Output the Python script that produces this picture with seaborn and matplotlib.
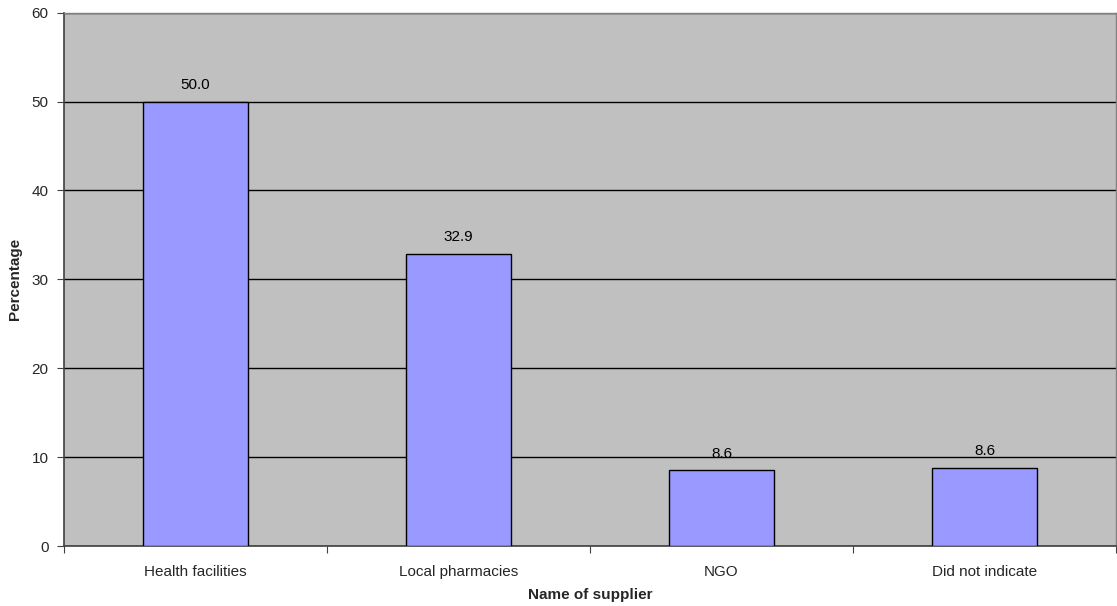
import matplotlib
matplotlib.use("Agg")
import matplotlib.pyplot as plt
import seaborn as sns
import pandas as pd

# Data
suppliers = ["Health facilities", "Local pharmacies", "NGO", "Did not indicate"]
percentages = [50.0, 32.9, 8.5, 8.8]
value_labels = ["50.0", "32.9", "8.6", "8.6"]
y_ticks = [0, 10, 20, 30, 40, 50, 60]

df = pd.DataFrame({"supplier": suppliers, "pct": percentages})

sns.set_style("white")
plt.rcParams["font.family"] = ["Liberation Sans", "DejaVu Sans"]

fig = plt.figure(figsize=(11.17, 6.06), dpi=100)
ax = fig.add_axes([0.0573, 0.099, 0.9418, 0.880])
ax.set_facecolor("#C0C0C0")

sns.barplot(data=df, x="supplier", y="pct", color="#9999FF", saturation=1,
            width=0.4, edgecolor="black", linewidth=1, ax=ax, zorder=3)

# value labels
for i, (v, lab) in enumerate(zip(percentages, value_labels)):
    ax.text(i, v + 1.1, lab, ha="center", va="bottom", fontsize=11, color="black", zorder=4)

ax.set_ylim(0, 60)
ax.set_xlim(-0.5, len(suppliers) - 0.5)
ax.set_yticks(y_ticks)
ax.yaxis.grid(True, color="black", linewidth=1)
ax.set_axisbelow(True)

# x ticks at category boundaries, labels at centres
ax.set_xticks([i - 0.5 for i in range(len(suppliers) + 1)])
ax.set_xticklabels([])
ax.set_xticks(range(len(suppliers)), minor=True)
ax.set_xticklabels(suppliers, minor=True, fontsize=11)
ax.tick_params(axis="x", which="minor", length=0, pad=14)
ax.tick_params(axis="x", which="major", direction="out", length=5,
               color="#404040", bottom=True)
ax.tick_params(axis="y", direction="out", length=5, labelsize=11,
               color="#404040", pad=6, left=True)

for side in ["left", "bottom"]:
    ax.spines[side].set_color("#404040")
    ax.spines[side].set_linewidth(1.2)
for side in ["top", "right"]:
    ax.spines[side].set_color("#808080")
    ax.spines[side].set_linewidth(1)

ax.set_xlabel("Name of supplier", fontsize=11, fontweight="bold", labelpad=6)
ax.set_ylabel("Percentage", fontsize=11, fontweight="bold", labelpad=7)

fig.savefig("out.png", dpi=100)
